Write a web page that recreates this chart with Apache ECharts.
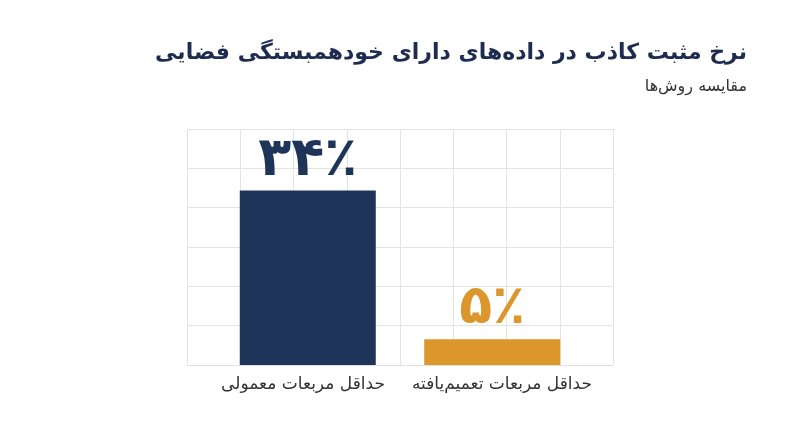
<!DOCTYPE html>
<html dir="rtl">
<head>
<meta charset="utf-8">
<script src="https://cdn.jsdelivr.net/npm/echarts@6/dist/echarts.min.js"></script>
<style>
  html, body { margin: 0; padding: 0; background: #fff; }
  #chart { width: 800px; height: 447px; }
</style>
</head>
<body>
<div id="chart"></div>
<script>
var categories = ['حداقل مربعات معمولی', 'حداقل مربعات تعمیم‌یافته'];
var values = [34, 5];
var colors = ['#1e3559', '#dc972c'];

var persianDigits = ['۰', '۱', '۲', '۳', '۴', '۵', '۶', '۷', '۸', '۹'];
function toPersian(n) {
    return String(n).replace(/[0-9]/g, function (d) { return persianDigits[+d]; }) + '٪';
}

var myChart = echarts.init(document.getElementById('chart'));

// one series per bar so each can sit off-centre like the original
var series = values.map(function (v, i) {
    var data = values.map(function (_, j) { return j === i ? v : '-'; });
    return {
        name: categories[i],
        type: 'bar',
        xAxisIndex: 0,
        yAxisIndex: 0,
        barWidth: 136,
        barGap: '-121%',
        data: data,
        itemStyle: { color: colors[i] },
        label: {
            show: true,
            position: 'top',
            distance: 3,
            formatter: function (p) { return toPersian(p.value); },
            fontFamily: 'DejaVu Sans',
            fontWeight: 'bold',
            fontSize: 54,
            color: colors[i]
        }
    };
});

option = {
    backgroundColor: '#ffffff',
    title: {
        text: 'نرخ مثبت کاذب در داده‌های دارای خودهمبستگی فضایی',
        subtext: 'مقایسه روش‌ها',
        left: 742,
        top: 37,
        textAlign: 'right',
        itemGap: 15,
        textStyle: {
            fontFamily: 'DejaVu Sans',
            fontWeight: 'bold',
            fontSize: 22,
            color: '#1d2c50'
        },
        subtextStyle: {
            fontFamily: 'DejaVu Sans',
            fontSize: 16,
            color: '#333333'
        }
    },
    grid: {
        left: 187,
        right: 187,
        top: 129,
        bottom: 82
    },
    xAxis: [
        {
            type: 'category',
            data: categories,
            axisTick: { show: false },
            axisLine: { show: true, lineStyle: { color: '#e0e0e0', width: 1 } },
            splitLine: { show: true, lineStyle: { color: '#dcdcdc', width: 1 } },
            axisLabel: {
                interval: 0,
                margin: 11,
                fontFamily: 'DejaVu Sans',
                fontSize: 17,
                color: '#333333',
                formatter: function (v, i) { return i === 0 ? '{a|' + v + '}' : '{b|' + v + '}'; },
                rich: {
                    a: { fontFamily: 'DejaVu Sans', fontSize: 17, color: '#333333', padding: [0, 0, 0, 19] },
                    b: { fontFamily: 'DejaVu Sans', fontSize: 17, color: '#333333', padding: [0, 9, 0, 0] }
                }
            }
        },
        {
            type: 'value',
            min: 0,
            max: 8,
            interval: 1,
            position: 'top',
            axisLine: { show: false },
            axisTick: { show: false },
            axisLabel: { show: false },
            splitLine: { show: true, lineStyle: { color: '#e3e3e3', width: 1 } }
        }
    ],
    yAxis: [
        {
            type: 'value',
            min: 0,
            max: 46,
            axisLine: { show: false },
            axisTick: { show: false },
            axisLabel: { show: false },
            splitLine: { show: false }
        },
        {
            type: 'value',
            min: 0,
            max: 6,
            interval: 1,
            axisLine: { show: false },
            axisTick: { show: false },
            axisLabel: { show: false },
            splitLine: { show: true, lineStyle: { color: '#e3e3e3', width: 1 } }
        }
    ],
    series: series
};

myChart.setOption(option);
</script>
</body>
</html>
